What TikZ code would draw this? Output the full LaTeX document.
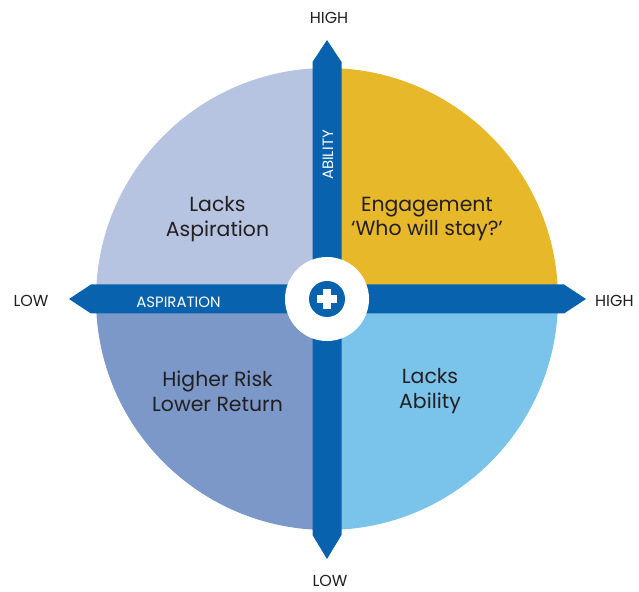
\documentclass[tikz,border=0pt]{standalone}
\usepackage{fontspec}
\setmainfont{Poppins}
\usepackage{xcolor}
\definecolor{qlav}{RGB}{182,196,226}
\definecolor{qgold}{RGB}{232,184,43}
\definecolor{qsteel}{RGB}{123,152,201}
\definecolor{qsky}{RGB}{122,195,235}
\definecolor{mbar}{RGB}{8,98,173}
\definecolor{mtext}{RGB}{35,31,32}

\begin{document}
\begin{tikzpicture}[x=1bp, y=1bp]
  \tikzset{quad label/.style={text=mtext, align=center, font=\fontsize{20.5}{25}\selectfont},
           axis label/.style={text=mtext, inner sep=0pt, font=\fontsize{16}{16}\selectfont},
           bar label/.style={text=white, font=\fontsize{15}{15}\selectfont}}
  \useasboundingbox (-327,-293) rectangle (312,299);

  % quadrants
  \fill[qlav]   (0,0) -- (180:231bp) arc[start angle=180, end angle=90,  radius=231bp] -- cycle;
  \fill[qgold]  (0,0) -- (90:231bp)  arc[start angle=90,  end angle=0,   radius=231bp] -- cycle;
  \fill[qsteel] (0,0) -- (180:231bp) arc[start angle=180, end angle=270, radius=231bp] -- cycle;
  \fill[qsky]   (0,0) -- (270:231bp) arc[start angle=270, end angle=360, radius=231bp] -- cycle;

  % axis bars
  \fill[mbar] (-14.5,-236) -- (-14.5,237) -- (0,259) -- (14.5,237) -- (14.5,-236) -- (0,-260) -- cycle; % ability
  \fill[mbar] (-236,-14.5) -- (237,-14.5) -- (259,0) -- (237,14.5) -- (-236,14.5) -- (-258,0) -- cycle; % aspiration

  % centre badge
  \fill[white] (0,0) circle (42bp);
  \fill[mbar] (0,0) circle (18bp);
  \fill[white] (-10,-4) rectangle (10,4);
  \fill[white] (-4,-10) rectangle (4,10);

  \node[quad label] (lasp) at (-109.5,80) {Lacks\\Aspiration};
  \node[quad label] (eng)  at (100,80) {Engagement\\‘Who will stay?’};
  \node[quad label] (risk) at (-109.5,-92) {Higher Risk\\Lower Return};
  \node[quad label] (labi) at (103,-92) {Lacks\\Ability};

  \node[axis label] (ytop) at (2,281) {HIGH};
  \node[axis label] (ybot) at (3,-282) {LOW};
  \node[axis label] (xlow) at (-296,-2) {LOW};
  \node[axis label, anchor=west] (xhigh) at (268,-2) {HIGH};

  \node[bar label] (asp) at (-148.5,-3) {ASPIRATION};
  \node[bar label, rotate=90] (abi) at (1,144) {ABILITY};
\end{tikzpicture}
\end{document}
